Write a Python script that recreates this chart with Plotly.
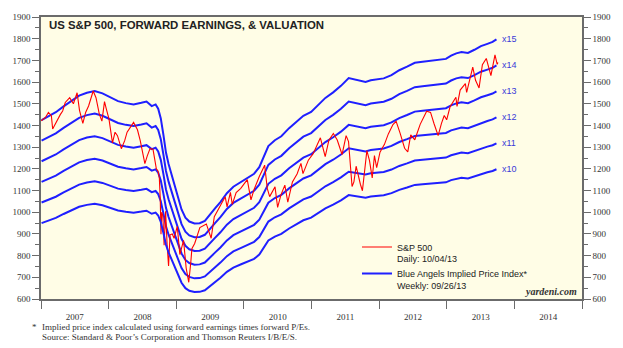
import plotly.graph_objects as go

# ---------------- data ----------------
sp_dates = [
    "2007-01-02","2007-01-25","2007-02-10","2007-02-26","2007-03-05","2007-03-20","2007-04-02","2007-04-15",
    "2007-04-28","2007-05-12","2007-06-05","2007-06-25","2007-07-15","2007-07-28","2007-08-15","2007-08-30",
    "2007-09-15","2007-09-28","2007-10-10","2007-10-25","2007-11-12","2007-11-26","2007-12-10","2007-12-20",
    "2008-01-03","2008-01-22","2008-02-05","2008-02-18","2008-03-10","2008-03-28","2008-04-10","2008-05-15",
    "2008-06-05","2008-06-20","2008-07-10","2008-07-15","2008-07-28","2008-08-12","2008-08-28","2008-09-05",
    "2008-09-15","2008-09-24","2008-10-01","2008-10-06","2008-10-10","2008-10-14","2008-10-20","2008-10-27",
    "2008-11-04","2008-11-12","2008-11-20","2008-11-28","2008-12-10","2008-12-20","2009-01-06","2009-01-20",
    "2009-02-09","2009-02-23","2009-03-09","2009-03-20","2009-03-26","2009-04-10","2009-05-08","2009-06-12",
    "2009-07-08","2009-07-25","2009-08-25","2009-09-22","2009-10-02","2009-10-20","2009-10-30","2009-11-20",
    "2009-12-15","2010-01-19","2010-02-08","2010-02-25","2010-03-25","2010-04-23","2010-05-07","2010-05-20",
    "2010-06-18","2010-07-02","2010-07-20","2010-08-10","2010-08-26","2010-09-20","2010-10-15","2010-11-05",
    "2010-11-16","2010-12-15","2011-01-10","2011-02-18","2011-03-16","2011-04-05","2011-04-29","2011-05-20",
    "2011-06-15","2011-07-07","2011-07-20","2011-08-08","2011-08-18","2011-08-30","2011-09-22","2011-10-03",
    "2011-10-27","2011-11-10","2011-11-25","2011-12-07","2011-12-19","2012-01-06","2012-01-30","2012-02-20",
    "2012-03-16","2012-04-02","2012-04-23","2012-05-18","2012-06-04","2012-06-20","2012-07-12","2012-08-10",
    "2012-09-14","2012-10-05","2012-10-24","2012-11-15","2012-12-03","2012-12-18","2012-12-31","2013-01-18",
    "2013-02-19","2013-02-25","2013-03-14","2013-04-11","2013-04-18","2013-05-21","2013-06-05","2013-06-24",
    "2013-07-12","2013-08-02","2013-08-27","2013-09-18","2013-09-30","2013-10-04",
]
sp_values = [
    1422,1437,1460,1445,1384,1410,1430,1450,
    1467,1506,1528,1500,1551,1470,1410,1460,
    1490,1530,1559,1528,1452,1420,1510,1475,
    1430,1320,1369,1353,1293,1330,1369,1414,
    1380,1330,1250,1224,1260,1293,1290,1255,
    1200,1190,1160,1064,899,1000,985,848,
    1005,852,752,896,900,880,935,805,
    870,743,677,768,832,856,929,946,
    880,979,1028,1071,1025,1092,1036,1091,
    1110,1150,1057,1105,1165,1217,1110,1072,
    1117,1022,1080,1125,1047,1140,1176,1225,
    1178,1240,1270,1343,1256,1332,1363,1333,
    1266,1353,1326,1119,1140,1212,1129,1099,
    1284,1239,1158,1261,1205,1277,1313,1361,
    1404,1419,1366,1295,1278,1357,1334,1405,
    1466,1460,1408,1353,1410,1446,1426,1485,
    1530,1488,1563,1593,1552,1669,1608,1573,
    1680,1709,1630,1725,1682,1690,
]

fe_dates = [
    "2007-01-04","2007-02-15","2007-03-22","2007-05-03","2007-06-14","2007-07-26","2007-09-06","2007-10-18",
    "2007-11-29","2008-01-10","2008-02-21","2008-04-03","2008-05-15","2008-06-26","2008-07-24","2008-08-21",
    "2008-09-11","2008-09-25","2008-10-09","2008-10-23","2008-11-06","2008-11-20","2008-12-11","2009-01-08",
    "2009-01-29","2009-02-19","2009-03-12","2009-04-09","2009-05-07","2009-06-04","2009-07-02","2009-07-30",
    "2009-08-27","2009-10-01","2009-11-05","2009-12-17","2010-01-28","2010-02-25","2010-03-25","2010-04-22",
    "2010-05-13","2010-06-17","2010-07-22","2010-09-02","2010-10-14","2010-11-18","2010-12-30","2011-02-03",
    "2011-03-17","2011-04-28","2011-06-09","2011-07-21","2011-08-18","2011-09-15","2011-10-20","2011-11-17",
    "2011-12-15","2012-01-26","2012-03-08","2012-04-19","2012-05-31","2012-07-12","2012-08-23","2012-10-04",
    "2012-11-15","2012-12-27","2013-01-24","2013-02-21","2013-03-21","2013-04-25","2013-05-30","2013-07-04",
    "2013-08-08","2013-09-05","2013-09-26",
]
fwd_earnings = [
    95.0,96.2,97.4,99.2,100.9,102.5,103.4,103.9,
    103.2,101.9,100.8,100.2,99.8,100.3,100.7,99.3,
    99.8,98.5,95.5,90.5,85.0,81.5,77.5,72.0,
    67.5,65.0,63.8,63.2,63.3,64.0,65.8,67.9,
    69.8,72.5,74.5,76.0,77.5,78.5,80.5,84.0,
    87.0,88.8,90.0,92.5,94.5,96.3,97.5,99.5,
    101.8,103.5,105.5,107.9,107.6,107.2,106.7,107.2,
    107.5,107.8,108.8,110.3,111.4,112.6,112.9,113.2,
    113.4,113.8,114.8,115.5,115.9,115.6,116.6,117.7,
    118.4,119.0,119.8,
]
multiples = [10, 11, 12, 13, 14, 15]
multiple_labels = ["x10", "x11", "x12", "x13", "x14", "x15"]

y_ticks = list(range(600, 2000, 100))

# ---------------- layout geometry helpers ----------------
W, H = 623, 348
L, R, T, B = 40, 30, 14, 49
PW, PH = W - L - R, H - T - B
def px(x):
    return (x - L) / PW
def py(y):
    return (H - B - y) / PH

BLUE = "#1f1fff"
RED = "#ff0000"
AX = "#6b6b6b"
TXT = "#333333"

fig = go.Figure()

for i, m in enumerate(multiples):
    fig.add_trace(go.Scatter(
        x=fe_dates, y=[e * m for e in fwd_earnings], mode="lines",
        line=dict(color=BLUE, width=2),
        name="Blue Angels Implied Price Index*<br>Weekly: 09/26/13",
        legendgroup="ba", showlegend=(m == 15), legendrank=2,
        yaxis="y2" if m == 10 else "y",
        hoverinfo="skip",
    ))

fig.add_trace(go.Scatter(
    x=sp_dates, y=sp_values, mode="lines",
    line=dict(color=RED, width=1.1),
    name="S&P 500<br>Daily: 10/04/13", legendrank=1,
))

for m, lab in zip(multiples, multiple_labels):
    fig.add_annotation(
        x=fe_dates[-1], y=fwd_earnings[-1] * m, text=lab, showarrow=False,
        xanchor="left", yanchor="middle", xshift=4,
        font=dict(family="Arial", size=9, color="#3a3ad8"),
    )

yax_common = dict(
    range=[600, 1900], tickvals=y_ticks, ticks="outside", ticklen=7, tickwidth=1,
    tickcolor=AX, showline=True, linecolor=AX, linewidth=1.5, showgrid=False, zeroline=False,
    tickfont=dict(family="Liberation Serif", size=9, color=TXT),
    minor=dict(dtick=50, tick0=600, ticks="outside", ticklen=4, tickcolor=AX, showgrid=False),
)

fig.update_layout(
    width=W, height=H,
    margin=dict(l=L, r=R, t=T, b=B),
    paper_bgcolor="white", plot_bgcolor="#FFFDE6",
    xaxis=dict(
        type="date", range=["2007-01-01", "2015-01-01"], dtick="M12", tick0="2007-01-01",
        ticklabelmode="period", tickformat="%Y", ticks="outside", ticklen=8, tickwidth=1,
        tickcolor=AX, showline=True, linecolor=AX, linewidth=1.5, mirror=True, showgrid=False,
        tickfont=dict(family="Liberation Serif", size=9, color=TXT),
    ),
    yaxis=dict(side="left", **yax_common),
    yaxis2=dict(side="right", overlaying="y", anchor="x", **yax_common),
    showlegend=True,
    legend=dict(
        x=px(363), y=py(234), xanchor="left", yanchor="top", valign="top",
        bgcolor="rgba(0,0,0,0)", font=dict(family="Arial", size=9, color="#222222"),
        tracegroupgap=0, itemwidth=30,
    ),
)

fig.add_annotation(
    xref="paper", yref="paper", x=px(46), y=py(22), xanchor="left", yanchor="middle",
    text="<b>US S&P 500, FORWARD EARNINGS, & VALUATION</b>", showarrow=False,
    font=dict(family="Arial", size=11.4, color="#222222"),
)
fig.add_annotation(
    xref="paper", yref="paper", x=px(590), y=py(291), xanchor="right", yanchor="middle",
    text="<b><i>yardeni.com</i></b>", showarrow=False,
    font=dict(family="Liberation Serif", size=10, color=TXT),
)
fig.add_annotation(
    xref="paper", yref="paper", x=px(29), y=py(327), xanchor="left", yanchor="middle",
    text="*", showarrow=False, font=dict(family="Liberation Serif", size=9, color=TXT),
)
fig.add_annotation(
    xref="paper", yref="paper", x=px(39), y=py(327), xanchor="left", yanchor="middle",
    text="Implied price index calculated using forward earnings times forward P/Es.",
    showarrow=False, font=dict(family="Liberation Serif", size=9, color=TXT),
)
fig.add_annotation(
    xref="paper", yref="paper", x=px(39), y=py(337), xanchor="left", yanchor="middle",
    text="Source: Standard & Poor\u2019s Corporation and Thomson Reuters I/B/E/S.",
    showarrow=False, font=dict(family="Liberation Serif", size=9, color=TXT),
)

fig.write_html("out.html")
